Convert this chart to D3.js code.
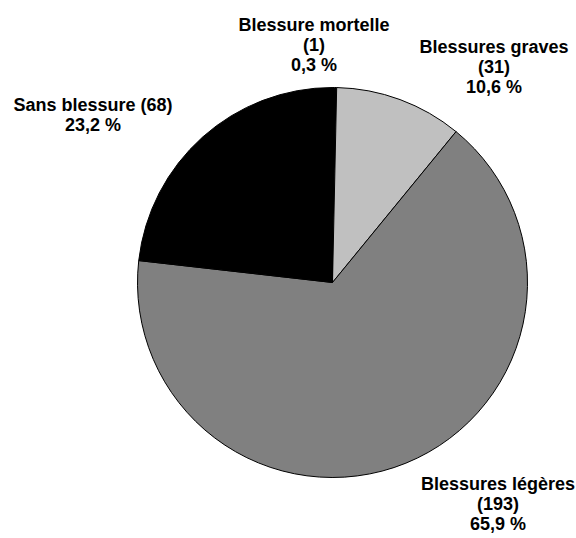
<!DOCTYPE html>
<html>
<head>
<meta charset="utf-8">
<script src="https://cdn.jsdelivr.net/npm/d3@7"></script>
<style>
  body { margin: 0; background: #fff; }
  svg { display: block; }
  text { font-family: "Liberation Sans", Arial, sans-serif; font-weight: bold; font-size: 18px; fill: #000; }
</style>
</head>
<body>
<svg id="chart" width="576" height="538"></svg>
<script>
// data, clockwise from 12 o'clock
categories = ["Blessure mortelle", "Blessures graves", "Blessures légères", "Sans blessure"];
counts = [1, 31, 193, 68];
percents = ["0,3 %", "10,6 %", "65,9 %", "23,2 %"];
colors = ["#000000", "#c0c0c0", "#808080", "#000000"];

// label lines per slice (as in the original layout)
labelLines = [
    ["Blessure mortelle", "(1)", "0,3 %"],
    ["Blessures graves", "(31)", "10,6 %"],
    ["Blessures légères", "(193)", "65,9 %"],
    ["Sans blessure (68)", "23,2 %"]
];
// label anchor: x centre, y of first baseline
labelPos = [[314, 31], [494, 53], [498, 490], [93, 111]];

CX = 332.5;
CY = 282.5;
R = 195;
LINE_H = 20;

svg = d3.select("#chart");

var slices = counts.map(function(c, i) { return {value: c, i: i}; });
var pie = d3.pie().sort(null).value(function(d) { return d.value; });
var arc = d3.arc().innerRadius(0).outerRadius(R);

var g = svg.append("g").attr("transform", "translate(" + CX + "," + CY + ")");

g.selectAll("path.slice")
    .data(pie(slices))
    .enter()
    .append("path")
    .attr("class", "slice")
    .attr("d", arc)
    .attr("fill", function(d) { return colors[d.data.i]; })
    .attr("stroke", "#000")
    .attr("stroke-width", 1)
    .attr("stroke-linejoin", "miter");

var lab = svg.selectAll("text.label")
    .data(labelLines)
    .enter()
    .append("text")
    .attr("class", "label")
    .attr("text-anchor", "middle")
    .attr("x", function(d, i) { return labelPos[i][0]; })
    .attr("y", function(d, i) { return labelPos[i][1]; });

lab.selectAll("tspan")
    .data(function(d, i) { return d.map(function(t) { return {t: t, i: i}; }); })
    .enter()
    .append("tspan")
    .attr("x", function(d) { return labelPos[d.i][0]; })
    .attr("dy", function(d, j) { return j == 0 ? 0 : LINE_H; })
    .text(function(d) { return d.t; });
</script>
</body>
</html>
